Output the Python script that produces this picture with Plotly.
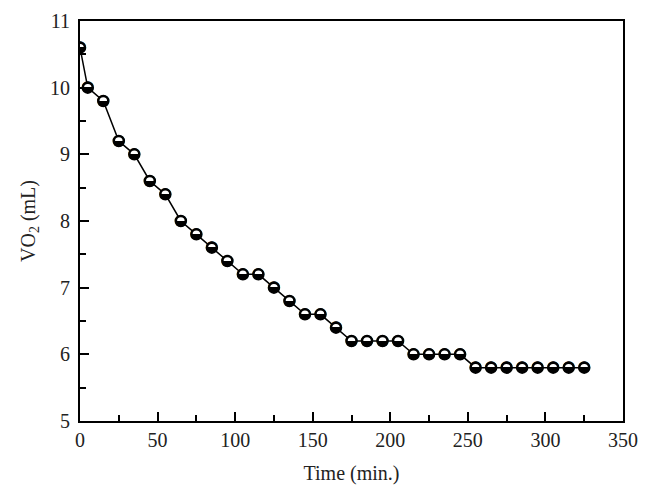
import plotly.graph_objects as go

time_min = [0, 5, 15, 25, 35, 45, 55, 65, 75, 85, 95, 105, 115, 125, 135, 145, 155, 165,
            175, 185, 195, 205, 215, 225, 235, 245, 255, 265, 275, 285, 295, 305, 315, 325]
vo2_ml = [10.6, 10.0, 9.8, 9.2, 9.0, 8.6, 8.4, 8.0, 7.8, 7.6, 7.4, 7.2, 7.2, 7.0, 6.8, 6.6, 6.6, 6.4,
          6.2, 6.2, 6.2, 6.2, 6.0, 6.0, 6.0, 6.0, 5.8, 5.8, 5.8, 5.8, 5.8, 5.8, 5.8, 5.8]

FONT = "Liberation Serif"
TXT = "#222"

fig = go.Figure()
fig.add_trace(go.Scatter(x=time_min, y=vo2_ml, mode="lines",
                         line=dict(color="black", width=1.5), hoverinfo="skip"))
fig.add_trace(go.Scatter(x=time_min, y=vo2_ml, mode="markers",
                         marker=dict(symbol="circle", size=10, color="white",
                                     line=dict(width=2.5, color="black")), hoverinfo="skip"))
fig.add_trace(go.Scatter(x=time_min, y=vo2_ml, mode="text", text=["\u25D2"] * len(time_min),
                         textposition="middle center", hoverinfo="skip",
                         textfont=dict(family="DejaVu Sans", size=15, color="black")))

axis_common = dict(showline=True, linecolor="black", linewidth=2, mirror=True,
                   ticks="inside", tickcolor="black", tickwidth=2, ticklen=9,
                   showgrid=False, zeroline=False, automargin=False,
                   tickfont=dict(family=FONT, size=20, color=TXT))

fig.update_xaxes(range=[0, 350], dtick=50, tick0=0,
                 minor=dict(dtick=25, ticks="inside", ticklen=6, tickwidth=2, tickcolor="black"),
                 title=dict(text="Time (min.)", font=dict(family=FONT, size=20, color=TXT), standoff=16),
                 **axis_common)
fig.update_yaxes(range=[5, 11], dtick=1, tick0=5, ticklabelstandoff=4,
                 minor=dict(dtick=0.5, ticks="inside", ticklen=6, tickwidth=2, tickcolor="black"),
                 title=dict(text="VO<sub>2</sub> (mL)", font=dict(family=FONT, size=20, color=TXT), standoff=9),
                 **axis_common)

fig.update_layout(width=653, height=496, showlegend=False,
                  margin=dict(l=72, r=38, t=13, b=83),
                  paper_bgcolor="white", plot_bgcolor="white")

fig.write_html("out.html")
